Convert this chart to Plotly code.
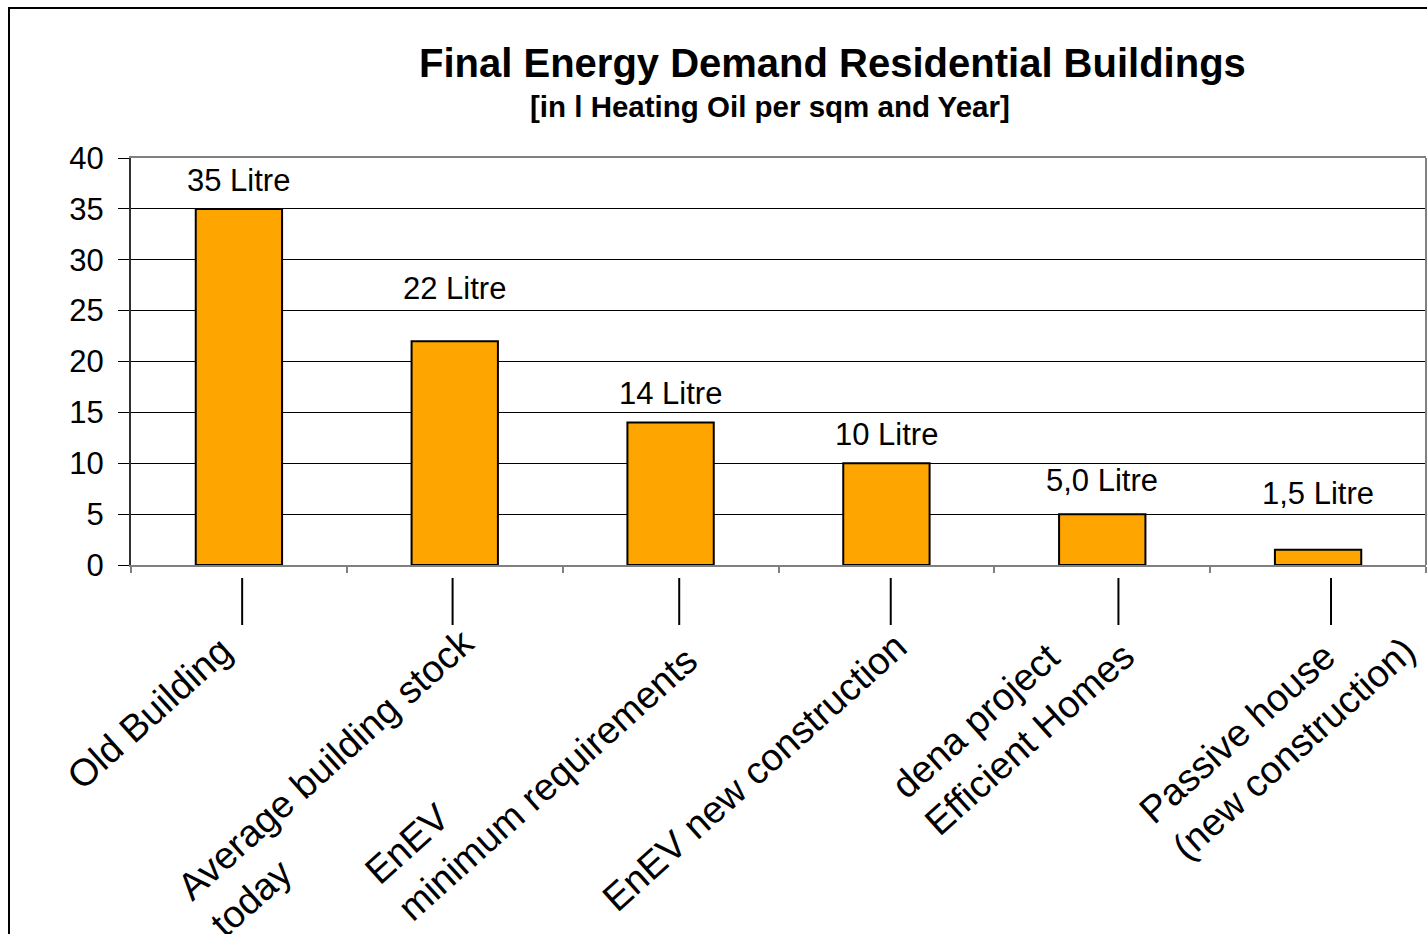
import plotly.graph_objects as go

# Final energy demand of residential buildings, litres of heating oil per sqm and year
categories = [
    "Old Building",
    "Average building stock<br>today",
    "EnEV<br>minimum requirements",
    "EnEV new construction",
    "dena project<br>Efficient Homes",
    "Passive house<br>(new construction)",
]
litres = [35, 22, 14, 10, 5.0, 1.5]
y_ticks = [0, 5, 10, 15, 20, 25, 30, 35, 40]

title_text = "Final Energy Demand Residential Buildings"
subtitle_text = "[in l Heating Oil per sqm and Year]"

FONT = "Liberation Sans, Arial, sans-serif"
W, H = 1427, 934
M_L, M_R, M_T, M_B = 131, 1, 158, 369
PLOT_W = W - M_L - M_R
PLOT_H = H - M_T - M_B


def fmt_litre(v):
    s = f"{v:.0f}" if v >= 10 else f"{v:.1f}".replace(".", ",")
    return f"{s} Litre"


def px_x(p):
    return (p - M_L) / PLOT_W


def px_y(p):
    return (H - M_B - p) / PLOT_H


fig = go.Figure(
    go.Bar(
        x=categories,
        y=litres,
        width=0.4,
        marker=dict(color="#FFA500", line=dict(color="black", width=2)),
        hoverinfo="skip",
    )
)

annotations = []

# value labels above the bars
label_shift = [28, 53, 29, 29, 34, 56]
for cat, v, sh in zip(categories, litres, label_shift):
    annotations.append(dict(
        x=cat, y=v, xref="x", yref="y", text=fmt_litre(v), showarrow=False,
        xanchor="center", yanchor="middle", yshift=sh,
        font=dict(family=FONT, size=31, color="black"),
    ))

# rotated category labels below the axis
cat_xshift = [4, 63, 37, 31, 42, 107]
cat_yshift = [4, 12, 30, 8, 35, 40]
for cat, xs, ys in zip(categories, cat_xshift, cat_yshift):
    annotations.append(dict(
        x=cat, y=px_y(630), xref="x", yref="paper", text=cat, showarrow=False,
        textangle=-42, align="left", xanchor="right", yanchor="top",
        xshift=xs, yshift=ys,
        font=dict(family=FONT, size=38, color="black"),
    ))

# title and subtitle
annotations.append(dict(
    x=px_x(832), y=px_y(63), xref="paper", yref="paper",
    text=f"<b>{title_text}</b>", showarrow=False,
    xanchor="center", yanchor="middle",
    font=dict(family=FONT, size=40, color="black"),
))
annotations.append(dict(
    x=px_x(770), y=px_y(106), xref="paper", yref="paper",
    text=f"<b>{subtitle_text}</b>", showarrow=False,
    xanchor="center", yanchor="middle",
    font=dict(family=FONT, size=29.5, color="black"),
))

shapes = []
# short vertical strokes above each category label
stroke_shift = [0.015, -0.01, 0.04, 0.02, 0.075, 0.06]
for cat, s in zip(categories, stroke_shift):
    shapes.append(dict(
        type="line", xref="x", yref="paper", x0=cat, x1=cat,
        x0shift=s, x1shift=s,
        y0=px_y(625), y1=px_y(578),
        line=dict(color="black", width=2),
    ))
# right border of the plot area
shapes.append(dict(
    type="line", xref="paper", yref="paper", x0=1, x1=1, y0=0, y1=1,
    line=dict(color="#808080", width=2),
))
# outer chart frame
shapes.append(dict(
    type="rect", xref="paper", yref="paper",
    x0=px_x(9), x1=px_x(W + 40), y0=px_y(H + 40), y1=px_y(8),
    line=dict(color="black", width=2), fillcolor="rgba(0,0,0,0)",
))

fig.update_layout(
    width=W, height=H,
    margin=dict(l=M_L, r=M_R, t=M_T, b=M_B, pad=0),
    paper_bgcolor="white", plot_bgcolor="white",
    showlegend=False,
    bargap=0.6,
    font=dict(family=FONT, color="black"),
    annotations=annotations,
    shapes=shapes,
    xaxis=dict(
        type="category",
        range=[-0.5, len(categories) - 0.5],
        showticklabels=False,
        ticks="outside", tickson="boundaries", ticklen=6, tickcolor="#808080", tickwidth=2,
        showline=True, linecolor="#808080", linewidth=2, mirror=True,
        showgrid=False, zeroline=False, fixedrange=True,
    ),
    yaxis=dict(
        range=[0, 40], tickvals=y_ticks,
        ticks="outside", ticklen=11, tickcolor="black", tickwidth=1,
        ticklabelstandoff=8,
        tickfont=dict(family=FONT, size=31, color="black"),
        showline=True, linecolor="#303030", linewidth=2,
        showgrid=True, gridcolor="black", gridwidth=1,
        zeroline=False, fixedrange=True,
    ),
)

fig.write_html("out.html")
